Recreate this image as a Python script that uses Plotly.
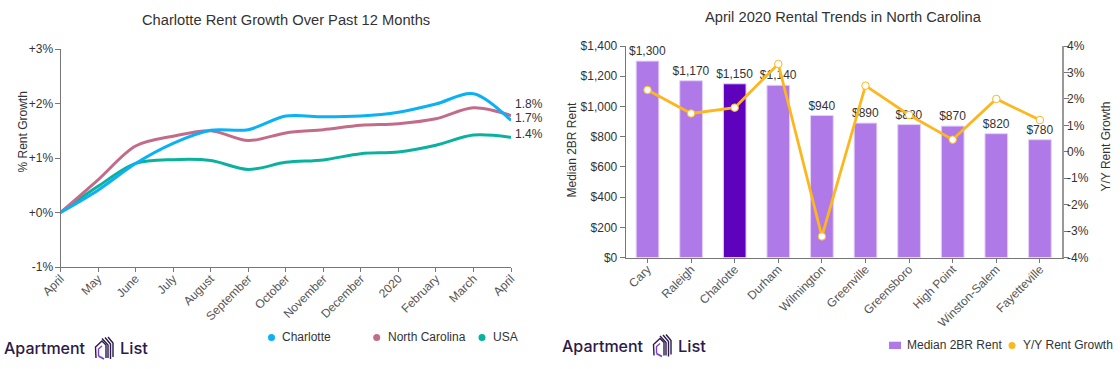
import plotly.graph_objects as go

W, H = 1120, 369

months = ["April","May","June","July","August","September","October","November","December","2020","February","March","April"]
charlotte = [0,0.41,0.90,1.27,1.51,1.52,1.77,1.755,1.77,1.84,1.99,2.18,1.69]
north_carolina = [0,0.60,1.22,1.40,1.50,1.32,1.46,1.52,1.60,1.63,1.72,1.92,1.78]
usa = [0,0.48,0.90,0.97,0.955,0.79,0.92,0.965,1.08,1.11,1.235,1.42,1.38]
end_labels = ["1.8%","1.7%","1.4%"]
left_ticks = [-1,0,1,2,3]
left_ticktext = ["-1%","+0%","+1%","+2%","+3%"]

cities = ["Cary","Raleigh","Charlotte","Durham","Wilmington","Greenville","Greensboro","High Point","Winston-Salem","Fayetteville"]
rent = [1300,1170,1150,1140,940,890,880,870,820,780]
yoy = [2.34,1.45,1.67,3.32,-3.2,2.5,1.39,0.46,2.0,1.2]
rent_ticks = [0,200,400,600,800,1000,1200,1400]
yoy_ticks = [-4,-3,-2,-1,0,1,2,3,4]

BLUE, ROSE, TEAL = "#0CB1F5", "#C26C8A", "#09B19E"
BAR, BAR_DARK, ORANGE = "#AF79E8", "#5F02BE", "#FDB71E"
TXT, TICK, AXIS, LOGO = "#333333", "#555555", "#777777", "#2B1A4A"
FONT = "Liberation Sans"

def fx(p): return p / W
def fy(p): return 1 - p / H

fig = go.Figure()
for name, vals, col in [("USA", usa, TEAL), ("North Carolina", north_carolina, ROSE), ("Charlotte", charlotte, BLUE)]:
    fig.add_trace(go.Scatter(x=list(range(len(months))), y=vals, name=name, mode="lines",
                             line=dict(color=col, width=3, shape="spline", smoothing=0.9),
                             cliponaxis=False, xaxis="x", yaxis="y"))

fig.add_trace(go.Bar(x=cities, y=rent, name="Median 2BR Rent", width=0.52,
                     marker=dict(color=[BAR_DARK if c == "Charlotte" else BAR for c in cities],
                                 line=dict(color="#E3D0F7", width=1)),
                     text=[f"${v:,}" for v in rent], textposition="outside", cliponaxis=False,
                     constraintext="none", textangle=0,
                     textfont=dict(size=12, color=TXT), xaxis="x2", yaxis="y2"))
fig.add_trace(go.Scatter(x=cities, y=yoy, name="Y/Y Rent Growth", mode="lines+markers",
                         line=dict(color=ORANGE, width=2.8),
                         marker=dict(size=7.5, color="white", line=dict(color=ORANGE, width=1)),
                         cliponaxis=False, xaxis="x2", yaxis="y3"))

base = dict(showgrid=False, zeroline=False, showline=True, ticks="outside",
            tickwidth=1, tickcolor=AXIS, linecolor=AXIS, linewidth=1, automargin=False)
fig.update_layout(
    width=W, height=H, autosize=False, showlegend=False, paper_bgcolor="white", plot_bgcolor="white",
    margin=dict(l=0, r=0, t=0, b=0, pad=0, autoexpand=False),
    font=dict(family=FONT, size=12, color=TXT), bargap=0.48,
    xaxis=dict(domain=[fx(60.5), fx(511)], range=[0, 12], tickvals=list(range(13)), ticktext=months,
               tickangle=-45, tickfont=dict(color=TICK), anchor="y", ticklen=4, ticklabelstandoff=-5, **base),
    yaxis=dict(domain=[fy(267), fy(49)], range=[-1, 3], tickvals=left_ticks, ticktext=left_ticktext,
               anchor="x", ticklen=5, ticklabelstandoff=-1, **base),
    xaxis2=dict(domain=[fx(625.7), fx(1061.7)], type="category", categoryorder="array", categoryarray=cities,
                range=[-0.5, 9.5], tickangle=-45, tickfont=dict(color=TICK), anchor="y2",
                ticklen=4, ticklabelstandoff=-5, **base),
    yaxis2=dict(domain=[fy(257.6), fy(46)], range=[0, 1400], tickvals=rent_ticks,
                ticktext=[f"${v:,}" for v in rent_ticks], anchor="x2", ticklen=5, **base),
    yaxis3=dict(domain=[fy(257.6), fy(46)], range=[-4, 4], tickvals=yoy_ticks,
                ticktext=[f"{v}%" for v in yoy_ticks], side="right", overlaying="y2", anchor="x2",
                showgrid=False, zeroline=False, showline=True, ticks="outside", ticklen=5, tickwidth=1,
                tickcolor="#777777", linecolor="#999999", linewidth=2, ticklabelstandoff=-4),
)

def note(text, x, y, size=12, color=TXT, xanchor="center", angle=0, family=FONT, weight=None):
    fig.add_annotation(text=text, x=fx(x), y=fy(y), xref="paper", yref="paper", showarrow=False,
                       xanchor=xanchor, yanchor="middle", textangle=angle,
                       font=dict(size=size, color=color, family=family, weight=weight), borderpad=0, borderwidth=0)

note("Charlotte Rent Growth Over Past 12 Months", 285.5, 20, 14.7)
note("April 2020 Rental Trends in North Carolina", 843.5, 17, 14.7)
note("% Rent Growth", 22.5, 132, angle=-90)
note("Median 2BR Rent", 571.5, 150, angle=-90)
note("Y/Y Rent Growth", 1105.5, 147, angle=-90)
for lab, y in zip(end_labels, [104, 118, 134]):
    note(lab, 515, y, xanchor="left")

def dot(x, y, col, r=3.5):
    fig.add_shape(type="circle", xref="paper", yref="paper", x0=fx(x-r), x1=fx(x+r), y0=fy(y+r), y1=fy(y-r),
                  fillcolor=col, line=dict(width=0))

for name, mx, tx, col in [("Charlotte", 271.5, 282, BLUE), ("North Carolina", 376.7, 387.7, ROSE), ("USA", 482, 493, TEAL)]:
    dot(mx, 337.5, col)
    note(name, tx, 337, xanchor="left")
fig.add_shape(type="rect", xref="paper", yref="paper", x0=fx(889), x1=fx(901), y0=fy(349), y1=fy(341.7),
              fillcolor=BAR, line=dict(width=0))
note("Median 2BR Rent", 907, 345, xanchor="left")
dot(1012, 345.5, ORANGE)
note("Y/Y Rent Growth", 1023, 345, xanchor="left")

def logo(dx, dy):
    note("Apartment", 4+dx, 348+dy, 16, LOGO, xanchor="left", family="Inter", weight=500)
    note("List", 120+dx, 348+dy, 16.5, LOGO, xanchor="left", family="Inter", weight=500)
    def path(pts, col, w=1.4):
        d = "M" + " L".join(f"{fx(x+dx):.5f},{fy(y+dy):.5f}" for x, y in pts)
        fig.add_shape(type="path", xref="paper", yref="paper", path=d, line=dict(color=col, width=w))
    path([(96,358),(95.5,347),(102,341),(106,345),(106,358)], LOGO)
    path([(98.5,356),(98.5,349),(102,346)], "#7B3FD0")
    path([(98.5,356),(104,359)], "#7B3FD0", 1.8)
    path([(102,338.5),(108,345),(108,358)], LOGO)
    path([(105,337.5),(110.5,344),(110.5,359)], LOGO)
    path([(108,337),(113,343),(113,357)], LOGO)
logo(0, 0)
logo(558, -2.5)

fig.write_html("out.html", config={"displayModeBar": False},
               post_script="document.body.style.margin='0';document.body.style.overflow='hidden';")
